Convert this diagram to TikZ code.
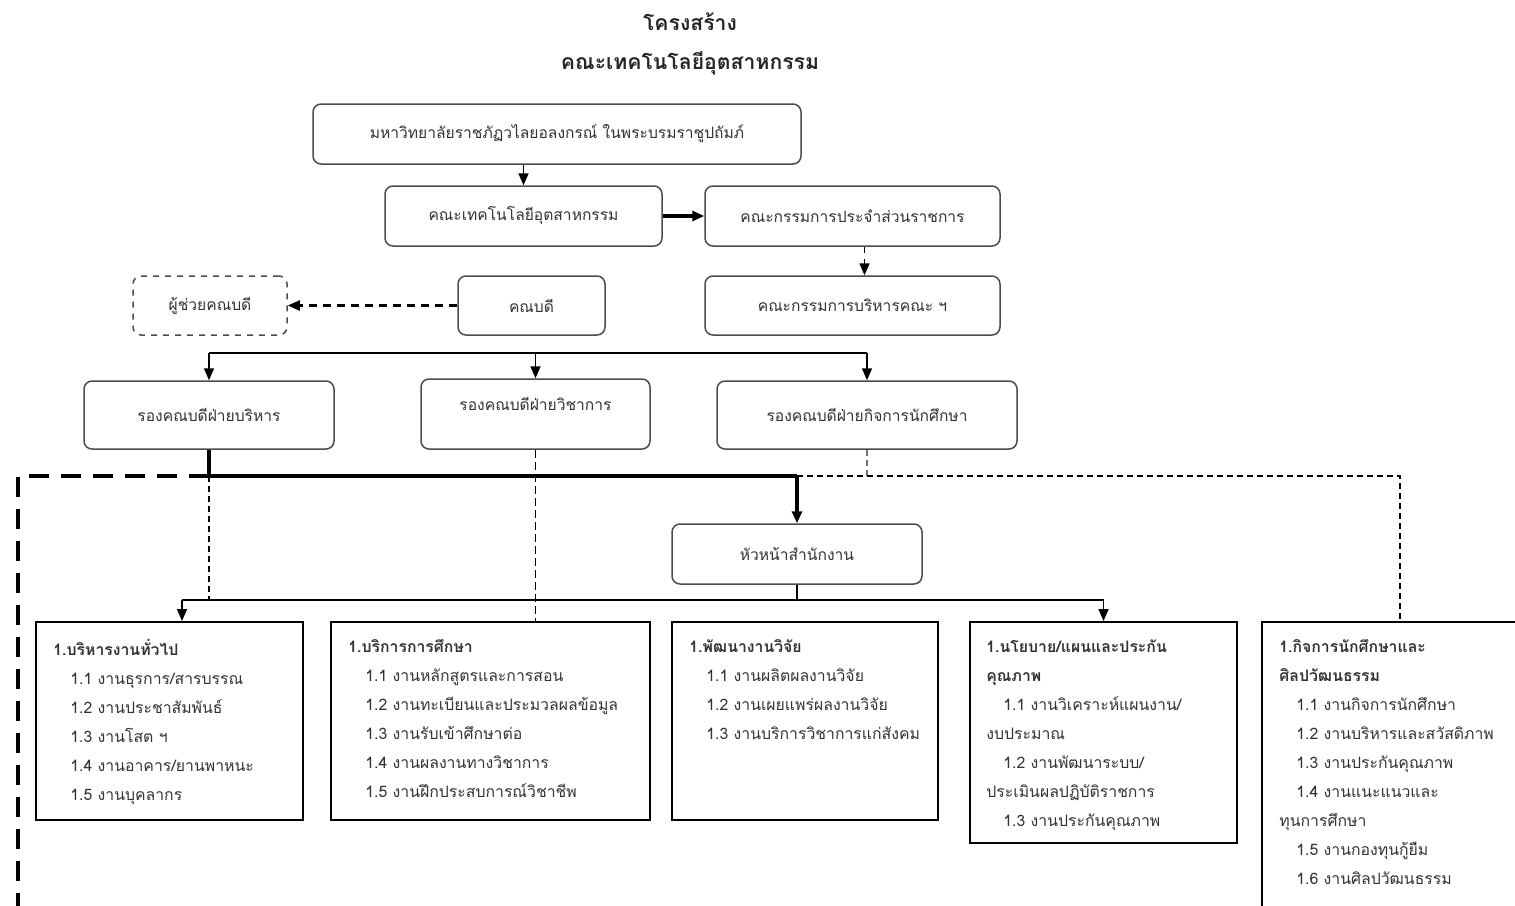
\documentclass[tikz,border=0pt]{standalone}
\usepackage{fontspec}
\setmainfont[Script=Thai]{Loma}
\usetikzlibrary{positioning,arrows.meta}
\newcommand{\FB}{\fontsize{7.8}{10}\selectfont}
\newcommand{\FL}{\fontsize{7.9}{14.5}\selectfont}
\newcommand{\FT}{\fontsize{10.6}{14}\selectfont\bfseries}
\newcommand{\ind}{\hspace*{8.5pt}}

\begin{document}
\begin{tikzpicture}[x=0.5pt,y=-0.5pt]
\tikzstyle{titel}=[font=\FT,text=black!85,inner sep=0pt]
\tikzstyle{rbox}=[draw=black!70,line width=0.75pt,rounded corners=4pt,fill=white,text=black!80,font=\FB,inner sep=1pt]
\tikzstyle{sbox}=[draw=black,line width=1pt,inner sep=0pt]
\tikzstyle{listtxt}=[align=left,font=\FL,text=black!80,inner sep=0pt]
\tikzstyle{arr}=[-{Stealth[length=6pt,width=5pt,inset=0pt]},line width=0.8pt]
\tikzstyle{heavy}=[line width=1.8pt]
\tikzstyle{heavydash}=[line width=2pt,dash pattern=on 10pt off 6pt]
\tikzstyle{thindash}=[line width=0.6pt,dash pattern=on 3pt off 2pt]

\useasboundingbox (0,0) rectangle (1515,905);

\node[titel] (t1) at (690,22) {โครงสร้าง};
\node[titel] (t2) at (690,63) {คณะเทคโนโลยีอุตสาหกรรม};

\node[rbox,minimum width=244pt,minimum height=30pt] (uni) at (557,134) {มหาวิทยาลัยราชภัฏวไลยอลงกรณ์ ในพระบรมราชูปถัมภ์};
\node[rbox,minimum width=138.5pt,minimum height=30pt] (fac) at (523.5,216) {คณะเทคโนโลยีอุตสาหกรรม};
\node[rbox,minimum width=147.5pt,minimum height=30pt] (comm) at (852.5,216) {คณะกรรมการประจำส่วนราชการ};
\node[rbox,minimum width=147.5pt,minimum height=29.5pt] (board) at (852.5,305.5) {คณะกรรมการบริหารคณะ ฯ};
\node[rbox,minimum width=73.5pt,minimum height=29.5pt] (dean) at (531.5,305.5) {คณบดี};
\node[rbox,dashed,minimum width=77pt,minimum height=29.5pt] (asst) at (210,305.5) {ผู้ช่วยคณบดี};

\node[rbox,minimum width=125pt,minimum height=34pt] (vd1) at (209,415) {รองคณบดีฝ่ายบริหาร};
\node[rbox,minimum width=114.5pt,minimum height=35pt,text depth=10pt] (vd2) at (535.5,414) {รองคณบดีฝ่ายวิชาการ};
\node[rbox,minimum width=150pt,minimum height=34pt] (vd3) at (867,415) {รองคณบดีฝ่ายกิจการนักศึกษา};
\node[rbox,minimum width=125pt,minimum height=30pt] (office) at (797,554) {หัวหน้าสำนักงาน};

\node[sbox,minimum width=133.5pt,minimum height=99pt] (b1) at (169.5,721) {};
\node[sbox,minimum width=159.5pt,minimum height=99pt] (b2) at (490.5,721) {};
\node[sbox,minimum width=133pt,minimum height=99pt] (b3) at (805,721) {};
\node[sbox,minimum width=133.5pt,minimum height=110.5pt] (b4) at (1103.5,732.5) {};
\node[sbox,minimum width=139pt,minimum height=154pt] (b5) at (1401,776) {};

\node[listtxt,below right=9pt and 9pt of b1.north west] (l1) {\textbf{1.บริหารงานทั่วไป}\\
\ind 1.1 งานธุรการ/สารบรรณ\\ \ind 1.2 งานประชาสัมพันธ์\\ \ind 1.3 งานโสต ฯ\\
\ind 1.4 งานอาคาร/ยานพาหนะ\\ \ind 1.5 งานบุคลากร};
\node[listtxt,below right=9pt and 9pt of b2.north west] (l2) {\textbf{1.บริการการศึกษา}\\
\ind 1.1 งานหลักสูตรและการสอน\\ \ind 1.2 งานทะเบียนและประมวลผลข้อมูล\\ \ind 1.3 งานรับเข้าศึกษาต่อ\\
\ind 1.4 งานผลงานทางวิชาการ\\ \ind 1.5 งานฝึกประสบการณ์วิชาชีพ};
\node[listtxt,below right=9pt and 9pt of b3.north west] (l3) {\textbf{1.พัฒนางานวิจัย}\\
\ind 1.1 งานผลิตผลงานวิจัย\\ \ind 1.2 งานเผยแพร่ผลงานวิจัย\\ \ind 1.3 งานบริการวิชาการแก่สังคม};
\node[listtxt,below right=9pt and 8.5pt of b4.north west] (l4) {\textbf{1.นโยบาย/แผนและประกัน}\\ \textbf{คุณภาพ}\\
\ind 1.1 งานวิเคราะห์แผนงาน/\\ งบประมาณ\\ \ind 1.2 งานพัฒนาระบบ/\\ ประเมินผลปฏิบัติราชการ\\ \ind 1.3 งานประกันคุณภาพ};
\node[listtxt,below right=9pt and 9pt of b5.north west] (l5) {\textbf{1.กิจการนักศึกษาและ}\\ \textbf{ศิลปวัฒนธรรม}\\
\ind 1.1 งานกิจการนักศึกษา\\ \ind 1.2 งานบริหารและสวัสดิภาพ\\ \ind 1.3 งานประกันคุณภาพ\\
\ind 1.4 งานแนะแนวและ\\ ทุนการศึกษา\\ \ind 1.5 งานกองทุนกู้ยืม\\ \ind 1.6 งานศิลปวัฒนธรรม};

\coordinate (bar1) at (537,353);
\coordinate (hub) at (209,476);
\coordinate (lcorner) at (18,476);
\coordinate (lend) at (18,915);
\coordinate (rcorner) at (1400,476);
\coordinate (bar2) at (182,600);

\draw[arr] (fac.north |- uni.south) -- (fac.north);
\draw[arr,line width=1.6pt] (fac.east) -- (comm.west);
\draw[arr,dashed] ([xshift=6pt]comm.south) -- ([xshift=6pt]board.north);
\draw[arr,line width=1.1pt,dash pattern=on 4pt off 3pt] (dean.west) -- (asst.east);

\draw[line width=0.8pt] (vd1.north |- bar1) -- (vd3.north |- bar1);
\foreach \v in {vd1,vd2,vd3}
  \draw[arr] (\v.north |- bar1) -- (\v.north);

\draw[heavydash] (hub) -- (lcorner) -- (lend);
\draw[heavy] (vd1.south) -- (hub) -- (office.north |- hub);
\draw[arr,heavy] (office.north |- hub) -- (office.north);
\draw[thindash] (hub) -- (hub |- bar2);
\draw[line width=0.6pt,dash pattern=on 4pt off 2pt] (vd2.south) -- (vd2.south |- b2.north);
\draw[thindash,black!55] (vd3.south) -- (vd3.south |- hub);
\draw[line width=0.9pt,dash pattern=on 3pt off 2pt] (office.north |- hub) -- (rcorner) -- (rcorner |- b5.north);

\draw[line width=0.7pt] (office.south) -- (office.south |- bar2);
\draw[line width=0.8pt] (bar2) -- (bar2 -| b4.north);
\draw[arr] (bar2) -- (bar2 |- b1.north);
\draw[arr] (bar2 -| b4.north) -- (b4.north);
\end{tikzpicture}
\end{document}
